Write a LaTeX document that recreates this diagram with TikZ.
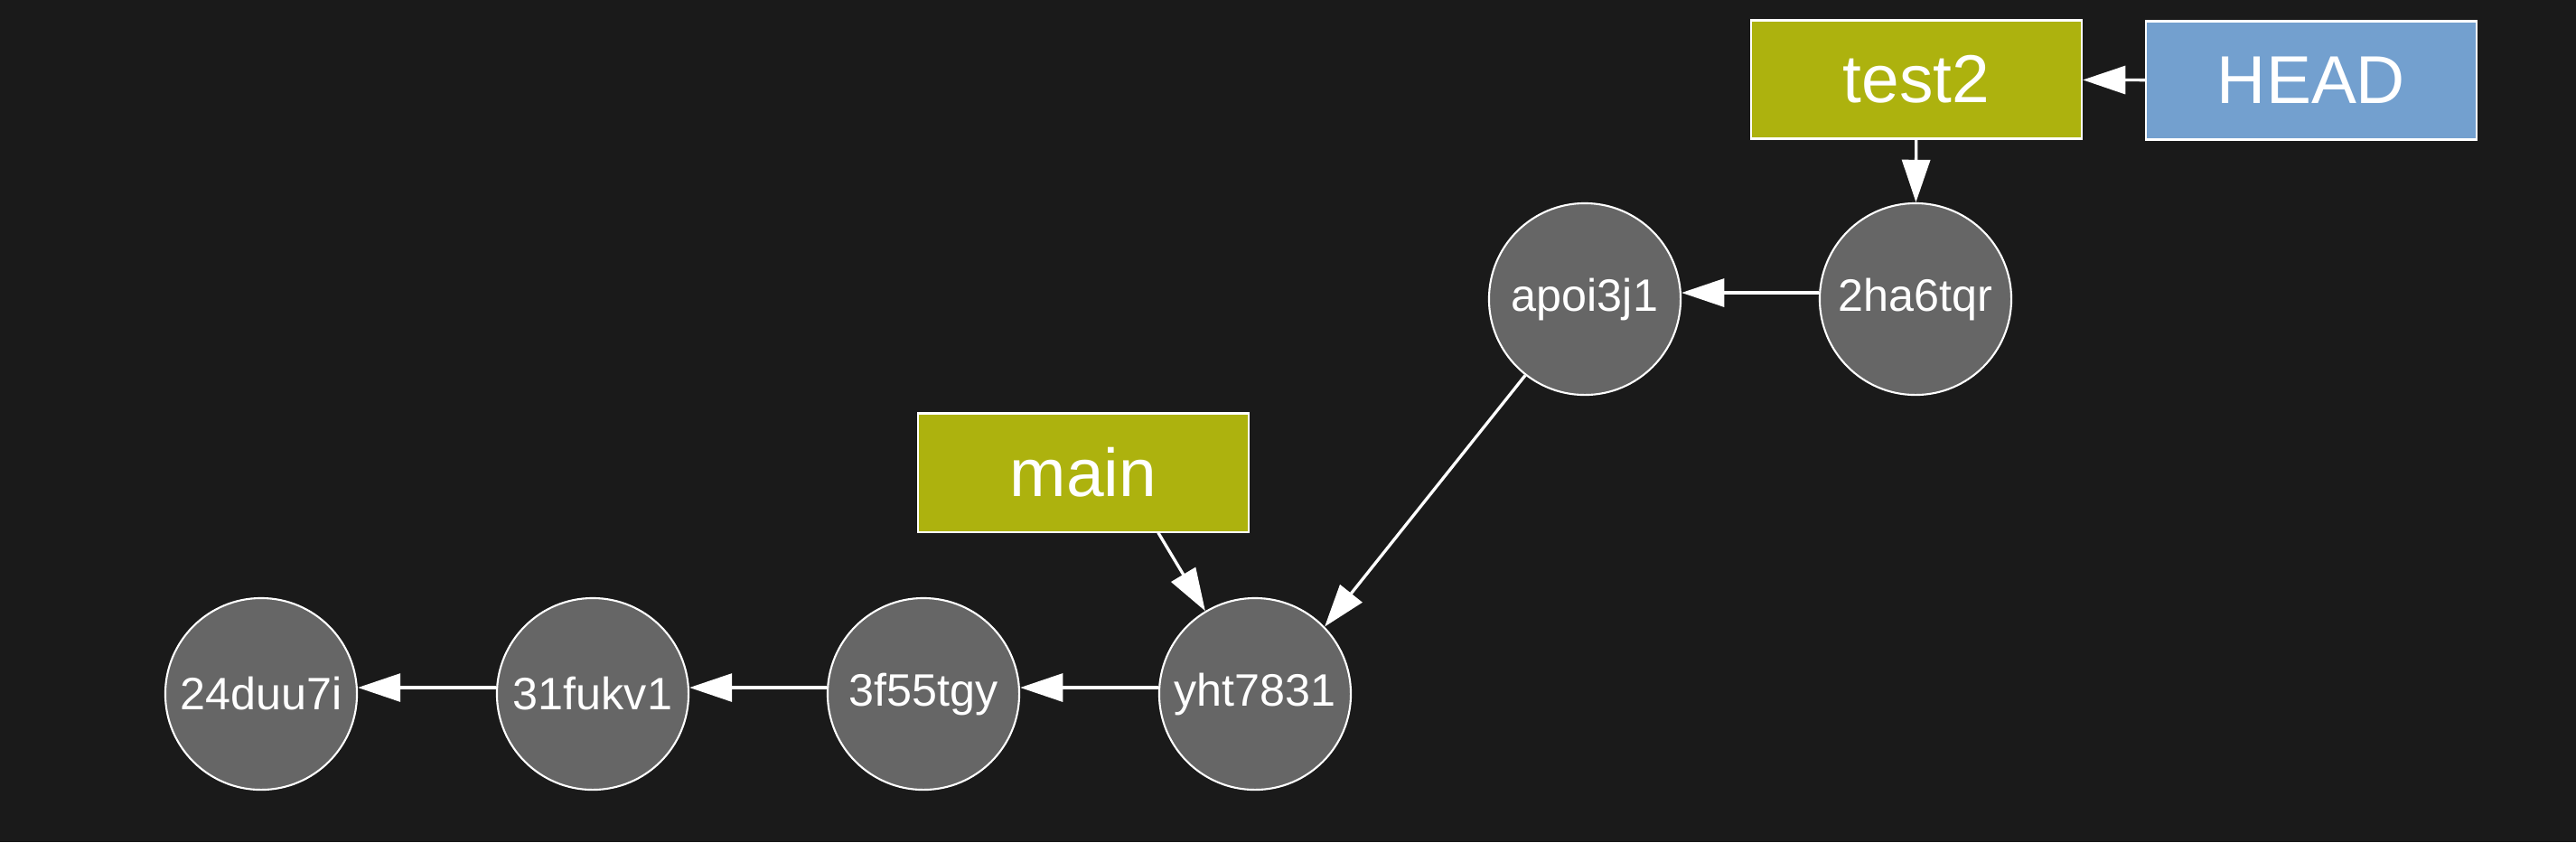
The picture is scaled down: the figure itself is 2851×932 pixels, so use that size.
\documentclass[tikz,border=0pt]{standalone}
\usepackage{fontspec}
\setmainfont{Liberation Sans}
\usetikzlibrary{arrows.meta}
\definecolor{bgdark}{RGB}{26,26,26}
\definecolor{commitgray}{RGB}{102,102,102}
\definecolor{branchgreen}{RGB}{173,178,14}
\definecolor{headblue}{RGB}{115,160,207}
\begin{document}
\begin{tikzpicture}[x=0.01cm, y=-0.01cm,
    commit/.style={circle, draw=white, line width=0.6pt, fill=commitgray, text=white, minimum size=2.12cm, inner sep=0pt, font=\fontsize{14.3}{17}\selectfont},
    branch/.style={rectangle, draw=white, line width=0.6pt, fill=branchgreen, text=white, minimum width=3.66cm, minimum height=1.31cm, inner sep=0pt, font=\fontsize{21.3}{25}\selectfont},
    pointer/.style={branch, fill=headblue},
    link/.style={draw=white, line width=0.95pt, -{Triangle[length=13.4pt, width=8.8pt]}}]
    \fill[bgdark] (0,0) rectangle (2851,932);
    \node[commit] (c24duu7i) at (289,768) {24duu7i};
    \node[commit] (c31fukv1) at (656,768) {31fukv1};
    \node[commit] (c3f55tgy) at (1022,768) {3f55tgy};
    \node[commit] (cyht7831) at (1389,768) {yht7831};
    \node[commit] (capoi3j1) at (1754,331) {apoi3j1};
    \node[commit] (c2ha6tqr) at (2120,331) {2ha6tqr};
    \node[branch] (main) at (1199,523) {main};
    \node[branch] (test2) at (2121,88) {test2};
    \node[pointer] (head) at (2558,89) {HEAD};
    \draw[link] ([yshift=0.07cm]c31fukv1.west) -- ([yshift=0.07cm]c24duu7i.east);
    \draw[link] ([yshift=0.07cm]c3f55tgy.west) -- ([yshift=0.07cm]c31fukv1.east);
    \draw[link] ([yshift=0.07cm]cyht7831.west) -- ([yshift=0.07cm]c3f55tgy.east);
    \draw[link] (capoi3j1.232) -- (cyht7831.44);
    \draw[link] ([yshift=0.07cm]c2ha6tqr.west) -- ([yshift=0.07cm]capoi3j1.east);
    \draw[link] (main.south -| cyht7831.west) -- (cyht7831);
    \draw[link] (test2) -- (c2ha6tqr);
    \draw[link] (head) -- (test2);
\end{tikzpicture}
\end{document}
